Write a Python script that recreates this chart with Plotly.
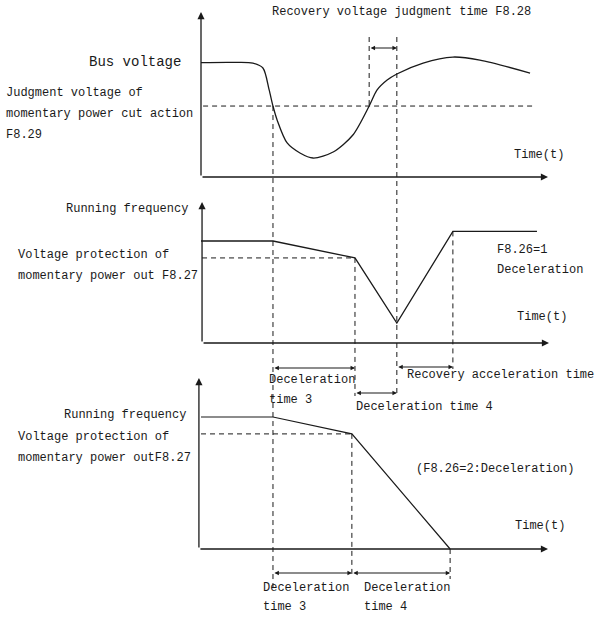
import plotly.graph_objects as go

# ---- data (time in arbitrary units, 0 = origin of each time axis) ----
# bus voltage (% of nominal)
bus_t = [0, 8.4, 15.0, 17.9, 19.7, 20.8, 22.0, 24.9, 28.6, 32.4, 38.2, 43.9,
         48.6, 50.9, 53.8, 56.6, 64.2, 72.8, 80.6, 95.1]
bus_v = [99.4, 99.6, 99.1, 94.8, 75.7, 61.7, 49.6, 29.6, 20.9, 16.5, 21.7, 36.5,
         61.7, 75.7, 84.3, 89.6, 99.1, 104.3, 101.7, 90.4]
v_judge = 61.7          # F8.29 judgment voltage
v_line_end = 96.0       # end of the judgment level line

# running frequency, F8.26=1 (recovers)
freq1_t = [0, 20.8, 44.5, 56.6, 72.8, 97.1]
freq1_f = [50, 50, 41.7, 9.8, 54.7, 54.7]
f_protect1 = 41.7

# running frequency, F8.26=2 (decelerates to stop)
freq2_t = [0, 20.8, 43.6, 72.0]
freq2_f = [50, 50, 43.6, 0]
f_protect2 = 43.6

t_cut = 20.8            # voltage drops below judgment level
t_recover = 48.6        # voltage back above judgment level
t_judge_end = 56.6      # end of recovery voltage judgment time F8.28
t_dec3_end = freq1_t[2]
t_acc_end = freq1_t[4]

# ---- page geometry (pixel anchors of the drawing) ----
W, H = 596, 619
X0_PX, X_SCALE = 201, 3.46
PANELS = {'y': (177, 1.15), 'y2': (343, 2.04), 'y3': (549, 2.64)}
FONT = 'Liberation Mono'
INK = '#1a1a1a'


def yrange(ax):
    base, s = PANELS[ax]
    return [(base - H) / s, base / s]


def ylev(ax, py):
    base, s = PANELS[ax]
    return (base - py) / s


def tpx(px):
    return (px - X0_PX) / X_SCALE


fig = go.Figure()

fig.add_trace(go.Scatter(x=bus_t, y=bus_v, mode='lines', yaxis='y',
                         line=dict(color=INK, width=1.3, shape='spline', smoothing=0.8)))
fig.add_trace(go.Scatter(x=freq1_t, y=freq1_f, mode='lines', yaxis='y2',
                         line=dict(color=INK, width=1.3)))
fig.add_trace(go.Scatter(x=freq2_t, y=freq2_f, mode='lines', yaxis='y3',
                         line=dict(color=INK, width=1.2)))

dash = dict(color=INK, width=1, dash='5px,4px')
shapes = []
# horizontal levels
shapes.append(dict(type='line', xref='x', yref='y', x0=0.6, x1=v_line_end, y0=v_judge, y1=v_judge, line=dash))
shapes.append(dict(type='line', xref='x', yref='y2', x0=0.3, x1=t_dec3_end, y0=f_protect1, y1=f_protect1, line=dash))
shapes.append(dict(type='line', xref='x', yref='y3', x0=0, x1=freq2_t[2], y0=f_protect2, y1=f_protect2, line=dash))
# vertical guides
guides = [
    (t_cut, 'y', v_judge, ylev('y', 592)),
    (t_recover, 'y', ylev('y', 37), v_judge),
    (t_judge_end, 'y', ylev('y', 37), ylev('y', 395)),
    (t_dec3_end, 'y2', f_protect1, ylev('y2', 396)),
    (t_acc_end, 'y2', freq1_f[4], ylev('y2', 369)),
    (freq2_t[2], 'y3', f_protect2, ylev('y3', 577)),
    (freq2_t[3], 'y3', 0, ylev('y3', 579)),
]
for t, ax, a, b in guides:
    shapes.append(dict(type='line', xref='x', yref=ax, x0=t, x1=t, y0=a, y1=b, line=dash))

ann = []


def arrow(ax, x0, y0, x1, y1, both=False, head=1.0, width=1.3):
    ann.append(dict(x=x1, y=y1, ax=x0, ay=y0, xref='x', yref=ax, axref='x', ayref=ax,
                    text='', showarrow=True, arrowhead=2, arrowsize=head,
                    arrowwidth=width, arrowcolor=INK,
                    arrowside='end+start' if both else 'end'))


# axes with arrows
arrow('y', 0, 0, 0, ylev('y', 12), head=1.1)
arrow('y', 0, 0, tpx(548), 0, head=1.1)
arrow('y2', 0.3, 0, 0.3, ylev('y2', 202), head=1.1)
arrow('y2', 0.3, 0, tpx(549), 0, head=1.1)
arrow('y3', -0.6, 0, -0.6, ylev('y3', 378), head=1.1)
arrow('y3', -0.6, 0, tpx(548), 0, head=1.1)

# time intervals
arrow('y', t_recover, ylev('y', 48), t_judge_end, ylev('y', 48), both=True, head=0.8, width=1.1)
arrow('y2', t_cut, ylev('y2', 368), t_dec3_end, ylev('y2', 368), both=True, head=0.8, width=1.1)
arrow('y2', t_judge_end, ylev('y2', 367), t_acc_end, ylev('y2', 367), both=True, head=0.8, width=1.1)
arrow('y2', t_dec3_end, ylev('y2', 393), t_judge_end, ylev('y2', 393), both=True, head=0.8, width=1.1)
arrow('y3', t_cut, ylev('y3', 573), freq2_t[2], ylev('y3', 573), both=True, head=0.8, width=1.1)
arrow('y3', freq2_t[2], ylev('y3', 573), freq2_t[3], ylev('y3', 573), both=True, head=0.8, width=1.1)


def label(text, px, py, anchor='left', size=12):
    ann.append(dict(text=text, x=px / W, y=1 - py / H,
                    xref='paper', yref='paper', borderpad=0,
                    xanchor=anchor, yanchor='middle', showarrow=False,
                    font=dict(family=FONT, size=size, color=INK)))


label('Recovery voltage judgment time F8.28', 271, 12)
label('Bus voltage', 182, 62, 'right', 14)
label('Judgment voltage of', 5, 93)
label('momentary power cut action', 5, 114)
label('F8.29', 5, 135)
label('Time(t)', 513, 155)

label('Running frequency', 189, 209, 'right')
label('Voltage protection of', 17, 255)
label('momentary power out F8.27', 17, 276)
label('F8.26=1', 496, 250)
label('Deceleration', 496, 270)
label('Time(t)', 516, 317)

label('Deceleration', 268, 380)
label('time 3', 268, 400)
label('Recovery acceleration time', 406, 375)
label('Deceleration time 4', 355, 407)

label('Running frequency', 187, 415, 'right')
label('Voltage protection of', 17, 437)
label('momentary power outF8.27', 17, 458)
label('(F8.26=2:Deceleration)', 415, 469)
label('Time(t)', 514, 526)

label('Deceleration', 262, 588)
label('time 3', 262, 607)
label('Deceleration', 363, 588)
label('time 4', 363, 607)

fig.update_layout(
    width=W, height=H, margin=dict(l=0, r=0, t=0, b=0),
    paper_bgcolor='white', plot_bgcolor='white', showlegend=False,
    xaxis=dict(range=[tpx(0), tpx(W)], domain=[0, 1], visible=False, fixedrange=True),
    yaxis=dict(range=yrange('y'), domain=[0, 1], visible=False),
    yaxis2=dict(range=yrange('y2'), overlaying='y', visible=False),
    yaxis3=dict(range=yrange('y3'), overlaying='y', visible=False),
    shapes=shapes, annotations=ann,
)

# drop the default 8px page margin so the drawing sits at the window origin
fig.write_html('out.html', config={'displayModeBar': False},
               post_script="document.body.style.margin='0';")
